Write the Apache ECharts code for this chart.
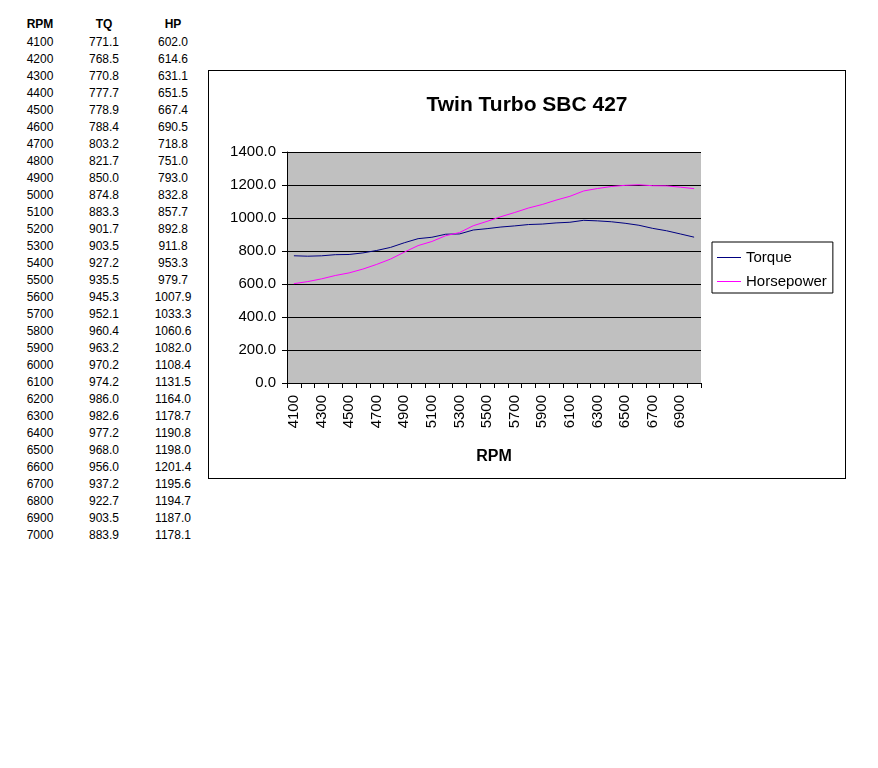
<!DOCTYPE html>
<html>
<head>
<meta charset="utf-8">
<script src="https://cdn.jsdelivr.net/npm/echarts@6/dist/echarts.min.js"></script>
<style>
html,body{margin:0;padding:0;background:#fff;width:878px;height:768px;overflow:hidden;font-family:"Liberation Sans",Arial,sans-serif;}
#tbl{position:absolute;left:0;top:0;}
.c{position:absolute;font-size:12px;color:#000;text-align:center;width:60px;line-height:14px;}
.h{font-weight:bold;}
#chart{position:absolute;left:208px;top:70px;width:636px;height:407px;border:1px solid #000;background:#fff;}
</style>
</head>
<body>
<div id="tbl"></div>
<div id="chart"></div>
<script>
const rpm = [4100,4200,4300,4400,4500,4600,4700,4800,4900,5000,5100,5200,5300,5400,5500,5600,5700,5800,5900,6000,6100,6200,6300,6400,6500,6600,6700,6800,6900,7000];
const torque = [771.1,768.5,770.8,777.7,778.9,788.4,803.2,821.7,850.0,874.8,883.3,901.7,903.5,927.2,935.5,945.3,952.1,960.4,963.2,970.2,974.2,986.0,982.6,977.2,968.0,956.0,937.2,922.7,903.5,883.9];
const horsepower = [602.0,614.6,631.1,651.5,667.4,690.5,718.8,751.0,793.0,832.8,857.7,892.8,911.8,953.3,979.7,1007.9,1033.3,1060.6,1082.0,1108.4,1131.5,1164.0,1178.7,1190.8,1198.0,1201.4,1195.6,1194.7,1187.0,1178.1];
const headers = ['RPM','TQ','HP'];
const yTicks = [0,200,400,600,800,1000,1200,1400];

// table
const tbl = document.getElementById('tbl');
const colCenters = [40,104,173];
function cell(txt, col, y, bold){
  const d = document.createElement('div');
  d.className = 'c' + (bold ? ' h' : '');
  d.style.left = (colCenters[col]-30) + 'px';
  d.style.top = y + 'px';
  d.textContent = txt;
  tbl.appendChild(d);
}
headers.forEach((h,i)=>cell(h,i,17,true));
rpm.forEach((r,i)=>{
  const y = 35 + i*17.0;
  cell(String(r),0,y);
  cell(torque[i].toFixed(1),1,y);
  cell(horsepower[i].toFixed(1),2,y);
});

const chart = echarts.init(document.getElementById('chart'));
const F = '"Liberation Sans", Arial, sans-serif';
chart.setOption({
  animation:false,
  backgroundColor:'#fff',
  title:{text:'Twin Turbo SBC 427',left:'center',top:19,textStyle:{fontFamily:F,fontSize:21,fontWeight:'bold',color:'#000'}},
  legend:{
    orient:'vertical',left:503,top:171,
    backgroundColor:'#fff',borderColor:'#000',borderWidth:1,
    padding:[8,6,4,5],itemGap:9,
    itemWidth:24,itemHeight:1,icon:'rect',
    textStyle:{fontFamily:F,fontSize:15,color:'#000'},
    data:['Torque','Horsepower']
  },
  grid:{left:78,top:81,width:414,height:231,show:true,backgroundColor:'#C0C0C0',borderWidth:0},
  xAxis:{
    type:'category',data:rpm.map(String),boundaryGap:true,
    name:'RPM',nameLocation:'middle',nameGap:66,
    nameTextStyle:{fontFamily:F,fontSize:16,fontWeight:'bold',color:'#000'},
    axisLine:{lineStyle:{color:'#000',width:1}},
    axisTick:{show:true,interval:0,length:5,lineStyle:{color:'#000'}},
    axisLabel:{interval:1,rotate:90,margin:12,fontFamily:F,fontSize:15,color:'#000'},
    splitLine:{show:false}
  },
  yAxis:{
    type:'value',min:yTicks[0],max:yTicks[yTicks.length-1],interval:200,
    axisLine:{show:true,lineStyle:{color:'#000',width:1}},
    axisTick:{show:true,length:5,lineStyle:{color:'#000'}},
    axisLabel:{fontFamily:F,fontSize:15,color:'#000',margin:11,formatter:v=>v.toFixed(1)},
    splitLine:{show:true,lineStyle:{color:'#000',width:1}}
  },
  series:[
    {name:'Torque',type:'line',data:torque,showSymbol:false,symbol:'none',color:'#000080',lineStyle:{width:1,color:'#000080'}},
    {name:'Horsepower',type:'line',data:horsepower,showSymbol:false,symbol:'none',color:'#FF00FF',lineStyle:{width:1,color:'#FF00FF'}}
  ]
});
</script>
</body>
</html>
